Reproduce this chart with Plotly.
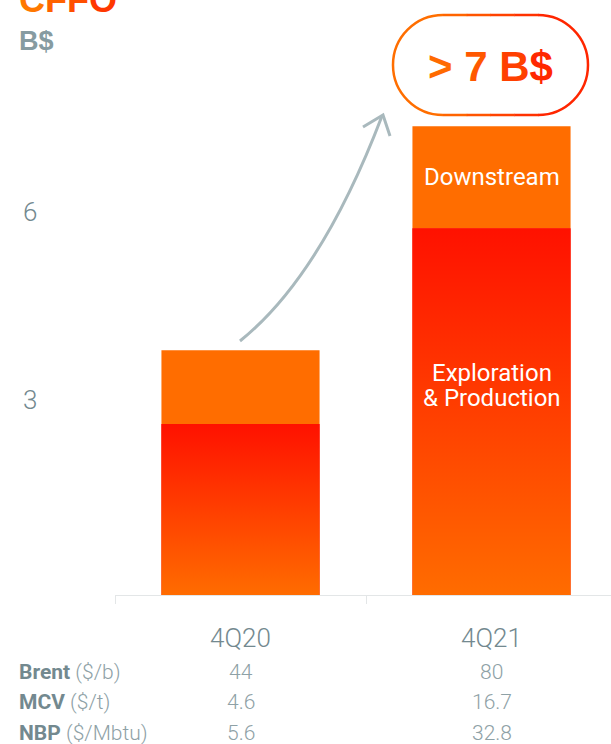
import plotly.graph_objects as go

# ---- data ----
quarters = ["4Q20", "4Q21"]
exploration_production = [2.73, 5.86]   # B$
downstream = [1.18, 1.63]               # B$
y_ticks = [3, 6]
price_rows = [
    ("Brent", "($/b)", ["44", "80"]),
    ("MCV", "($/t)", ["4.6", "16.7"]),
    ("NBP", "($/Mbtu)", ["5.6", "32.8"]),
]
headline = "> 7 B$"

# ---- canvas geometry ----
W, H = 611, 744
ML, MB = 115, 149
PLOT_W, PLOT_H = W - ML, H - MB
PX_PER_CAT = 251.0
PX_PER_UNIT = 62.6
BAR_W = 0.63

GREY = "#73898f"
GREY_LIGHT = "#8ea1a6"
ORANGE = "#ff6d00"
RED = "#ff1200"


def px_x(px):
    return (px - ML) / PLOT_W


def px_y(py):
    return (PLOT_H - py) / PLOT_H


fig = go.Figure()

x_idx = list(range(len(quarters)))

fig.add_trace(go.Bar(
    x=x_idx, y=exploration_production, width=BAR_W,
    marker=dict(color=RED, line=dict(width=0)),
    name="Exploration & Production", hoverinfo="skip",
))
fig.add_trace(go.Bar(
    x=x_idx, y=downstream, base=exploration_production, width=BAR_W,
    marker=dict(color=ORANGE, line=dict(width=0)),
    name="Downstream", hoverinfo="skip",
))

# vertical gradient over each Exploration & Production segment
for i, v in zip(x_idx, exploration_production):
    x0, x1 = i - BAR_W / 2, i + BAR_W / 2
    fig.add_trace(go.Scatter(
        x=[x0, x1, x1, x0, x0], y=[0, 0, v, v, 0],
        mode="lines", fill="toself", line=dict(width=0),
        fillgradient=dict(type="vertical",
                          colorscale=[[0, "#ff6c00"], [1, "#ff1100"]]),
        hoverinfo="skip", showlegend=False,
    ))

ann = []
font_light = dict(family="Roboto", weight=300)
seg_font = dict(family="Roboto", size=24, color="white")

# segment labels inside the 4Q21 bar
top = exploration_production[1] + downstream[1]
ann.append(dict(x=1, y=(exploration_production[1] + top) / 2, xref="x", yref="y",
                text="Downstream", showarrow=False, font=seg_font))
ann.append(dict(x=1, y=exploration_production[1] / 2, xref="x", yref="y",
                text="Exploration", showarrow=False, yshift=39, font=seg_font))
ann.append(dict(x=1, y=exploration_production[1] / 2, xref="x", yref="y",
                text="&amp; Production", showarrow=False, yshift=14, font=seg_font))

# y tick labels
for t in y_ticks:
    ann.append(dict(x=px_x(30), y=t, xref="paper", yref="y", text=str(t),
                    showarrow=False, yshift=7, xanchor="center",
                    font=dict(size=26, color=GREY, **font_light)))

# title and unit
cffo_cols = ["#ff7800", "#ff6200", "#ff4e00", "#ff3800"]
cffo = "".join(f"<span style='color:{c}'>{ch}</span>" for ch, c in zip("CFFO", cffo_cols))
ann.append(dict(x=px_x(17), y=px_y(22), xref="paper", yref="paper", text=cffo,
                showarrow=False, xanchor="left", yanchor="bottom",
                font=dict(family="Liberation Sans", size=36, weight="bold")))
ann.append(dict(x=px_x(17), y=px_y(41), xref="paper", yref="paper", text="B$",
                showarrow=False, xanchor="left", yanchor="middle",
                font=dict(family="Liberation Sans", size=27, weight="bold", color="#869ba1")))

# headline bubble text
hl_cols = ["#ff6a00", "#ff6a00", "#ff5800", "#ff5800", "#ff4000", "#ff2800"]
hl = "".join(f"<span style='color:{c}'>{ch}</span>" for ch, c in zip(headline, hl_cols))
ann.append(dict(x=px_x(490), y=px_y(66), xref="paper", yref="paper", text=hl,
                showarrow=False, xanchor="center", yanchor="middle",
                font=dict(family="Liberation Sans", size=42, weight="bold")))

# price table below the axis
row_y = [672, 702, 733]
for (name, unit, vals), ry in zip(price_rows, row_y):
    ann.append(dict(x=px_x(17), y=px_y(ry), xref="paper", yref="paper",
                    text=f"<b>{name}</b> <span style='font-weight:300;color:{GREY_LIGHT}'>{unit}</span>",
                    showarrow=False, xanchor="left", yanchor="middle",
                    font=dict(family="Roboto", size=21, color=GREY)))
    for i, v in zip(x_idx, vals):
        ann.append(dict(x=i, y=px_y(ry), xref="x", yref="paper", text=v,
                        showarrow=False, xanchor="center", yanchor="middle",
                        font=dict(size=21, color=GREY_LIGHT, **font_light)))

# curved growth arrow
shapes = []
ARROW = "#a9b9bd"


def P(px, py):
    return f"{px_x(px):.5f},{px_y(py):.5f}"


shapes.append(dict(type="path", xref="paper", yref="paper",
                   path=f"M{P(240, 341)} Q{P(321, 276)} {P(382, 116)}",
                   line=dict(color=ARROW, width=3)))
shapes.append(dict(type="path", xref="paper", yref="paper",
                   path=f"M{P(363, 127)} L{P(383, 115)} L{P(390, 136)}",
                   line=dict(color=ARROW, width=3)))

# rounded outline around the headline, shaded orange -> red left to right
bx0, bx1, by0, by1 = 393, 588, 15, 115
r = (by1 - by0) / 2
k = 0.5523 * r
cy = (by0 + by1) / 2
left_arc = (f"M{P(bx0 + r, by0)} C{P(bx0 + r - k, by0)} {P(bx0, cy - k)} {P(bx0, cy)} "
            f"C{P(bx0, cy + k)} {P(bx0 + r - k, by1)} {P(bx0 + r, by1)}")
right_arc = (f"M{P(bx1 - r, by0)} C{P(bx1 - r + k, by0)} {P(bx1, cy - k)} {P(bx1, cy)} "
             f"C{P(bx1, cy + k)} {P(bx1 - r + k, by1)} {P(bx1 - r, by1)}")
shapes.append(dict(type="path", xref="paper", yref="paper", path=left_arc,
                   line=dict(color="#ff6e00", width=2.5)))
shapes.append(dict(type="path", xref="paper", yref="paper", path=right_arc,
                   line=dict(color="#ff2600", width=2.5)))
seg_cols = ["#ff6400", "#ff5400", "#ff4200", "#ff3200"]
n = len(seg_cols)
for j, c in enumerate(seg_cols):
    xa = bx0 + r + (bx1 - bx0 - 2 * r) * j / n
    xb = bx0 + r + (bx1 - bx0 - 2 * r) * (j + 1) / n
    for yy in (by0, by1):
        shapes.append(dict(type="path", xref="paper", yref="paper",
                           path=f"M{P(xa, yy)} L{P(xb + 0.5, yy)}",
                           line=dict(color=c, width=2.5)))

fig.update_layout(
    width=W, height=H,
    margin=dict(l=ML, r=0, t=0, b=MB, pad=0),
    paper_bgcolor="white", plot_bgcolor="white",
    barmode="overlay", showlegend=False,
    annotations=ann, shapes=shapes,
    xaxis=dict(
        range=[-0.5, -0.5 + PLOT_W / PX_PER_CAT],
        tickvals=x_idx, ticktext=quarters, ticks="",
        tickfont=dict(size=26, color=GREY, **font_light),
        ticklabelstandoff=20,
        showgrid=False, zeroline=False,
        showline=True, linecolor="#e3e6e7", linewidth=1,
        minor=dict(tickvals=[-0.5, 0.5, 1.5], ticks="outside", ticklen=8,
                   tickcolor="#e3e6e7", tickwidth=1, showgrid=False),
        fixedrange=True,
    ),
    yaxis=dict(
        range=[0, PLOT_H / PX_PER_UNIT],
        showticklabels=False, showgrid=False, zeroline=False, ticks="",
        fixedrange=True,
    ),
)

fig.write_html("out.html", config={"displayModeBar": False})
